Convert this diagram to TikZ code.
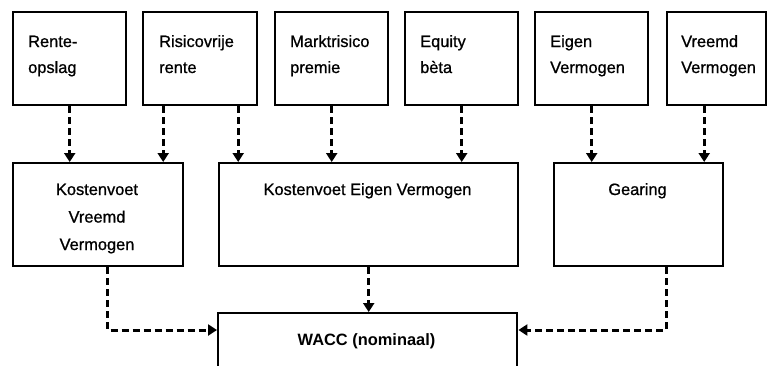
\documentclass[tikz,border=0pt]{standalone}
\usepackage{fontspec}
\setmainfont{Liberation Sans}
\newfontfamily\heavyfont[FakeBold=0.9]{Liberation Sans}
\usetikzlibrary{arrows.meta}
\newcommand\lstack[1]{\vtop{\halign{##\hfil\cr#1\crcr}}}
\newcommand\cstack[1]{\vtop{\halign{\hfil##\hfil\cr#1\crcr}}}
\begin{document}
\begin{tikzpicture}[x=1pt,y=-1pt,
  box/.style={draw, line width=2.4pt, inner sep=0pt, anchor=north west},
  toptxt/.style={inner sep=0pt, anchor=base west, font=\heavyfont\fontsize{16.4}{26}\selectfont},
  midtxt/.style={inner sep=0pt, anchor=base, font=\heavyfont\fontsize{16.4}{27.5}\selectfont},
  arr/.style={line width=3pt, dash pattern=on 7pt off 4pt, -{Triangle[length=9pt,width=11pt]}}]
\useasboundingbox (0,0) rectangle (767,365);
\clip (0,0) rectangle (767,365);
% top row
\node[box, minimum width=113pt, minimum height=93pt] (b1) at (12,11) {};
\node[box, minimum width=114pt, minimum height=93pt] (b2) at (142,11) {};
\node[box, minimum width=113pt, minimum height=93pt] (b3) at (274,11) {};
\node[box, minimum width=113pt, minimum height=93pt] (b4) at (404,11) {};
\node[box, minimum width=113pt, minimum height=93pt] (b5) at (534,11) {};
\node[box, minimum width=99pt, minimum height=93pt] (b6) at (666,11) {};
\node[toptxt] (t1) at (28,47) {\lstack{Rente-\cr opslag}};
\node[toptxt] (t2) at (159,47) {\lstack{Risicovrije\cr rente}};
\node[toptxt] (t3) at (290,47) {\lstack{Marktrisico\cr premie}};
\node[toptxt] (t4) at (420,47) {\lstack{Equity\cr bèta}};
\node[toptxt] (t5) at (550,47) {\lstack{Eigen\cr Vermogen}};
\node[toptxt] (t6) at (681,47) {\lstack{Vreemd\cr Vermogen}};
% middle row
\node[box, minimum width=170pt, minimum height=103pt] (kvv) at (12,162) {};
\node[box, minimum width=299pt, minimum height=103pt] (kev) at (218,162) {};
\node[box, minimum width=169pt, minimum height=103pt] (gear) at (553,162) {};
\node[midtxt] (tkvv) at (97,195) {\cstack{Kostenvoet\cr Vreemd\cr Vermogen}};
\node[midtxt] (tkev) at (367.5,195) {Kostenvoet Eigen Vermogen};
\node[midtxt] (tgear) at (637.5,195) {Gearing};
% bottom
\node[box, minimum width=299pt, minimum height=90pt] (wacc) at (217,312) {};
\node[midtxt, font=\fontsize{16.4}{20}\selectfont\bfseries] (twacc) at (366.5,345) {WACC (nominaal)};
% connectors
\draw[arr] (b1.south) -- (b1.south |- kvv.north);
\draw[arr] ([xshift=-37pt]b2.south) -- ([xshift=-37pt]b2.south |- kvv.north);
\draw[arr] ([xshift=38pt]b2.south) -- ([xshift=38pt]b2.south |- kev.north);
\draw[arr] (b3.south) -- (b3.south |- kev.north);
\draw[arr] (b4.south) -- (b4.south |- kev.north);
\draw[arr] (b5.south) -- (b5.south |- gear.north);
\draw[arr] ([xshift=-12.5pt]b6.south) -- ([xshift=-12.5pt]b6.south |- gear.north);
\draw[arr] (kev.south) -- (kev.south |- wacc.north);
\draw[arr] ([xshift=9pt]kvv.south) |- ([yshift=-18pt]wacc.north west);
\draw[arr] ([xshift=27.5pt]gear.south) |- ([yshift=-18pt]wacc.north east);
\end{tikzpicture}
\end{document}
